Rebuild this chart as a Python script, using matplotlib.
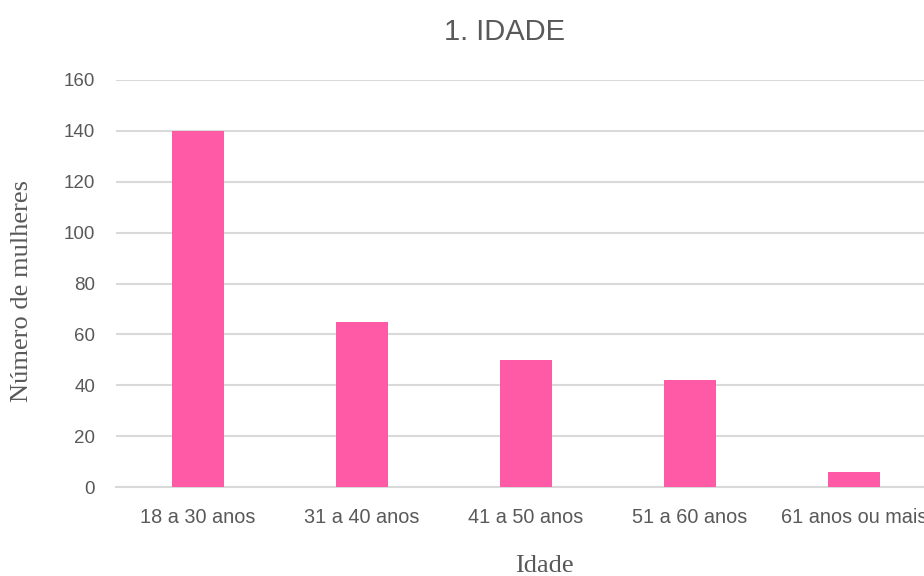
import matplotlib.pyplot as plt

# faixas etarias e numero de mulheres em cada uma
faixas = ["18 a 30 anos", "31 a 40 anos", "41 a 50 anos", "51 a 60 anos", "61 anos ou mais"]
mulheres = [140, 65, 50, 42, 6]
y_ticks = [0, 20, 40, 60, 80, 100, 120, 140, 160]

W, H = 924, 576
fig = plt.figure(figsize=(W / 100, H / 100), dpi=100)

# the plot area runs a little past the right border, as in the original export
left, right, bottom, top = 116, 936, 487, 80
ax = fig.add_axes([left / W, (H - bottom) / H, (right - left) / W, (bottom - top) / H])

x = range(len(faixas))
ax.bar(x, mulheres, width=0.32, color="#FF5AA6", zorder=3)

ax.set_xlim(-0.5, len(faixas) - 0.5)
ax.set_ylim(0, 160)
ax.set_yticks(y_ticks)
ax.set_xticks(list(x))
ax.set_xticklabels(faixas)

ax.grid(axis="y", color="#D9D9D9", linewidth=1.5, zorder=0)
for side in ["top", "right", "left"]:
    ax.spines[side].set_visible(False)
ax.spines["bottom"].set_color("#D9D9D9")
ax.spines["bottom"].set_linewidth(1.5)

ax.tick_params(axis="both", length=0, labelcolor="#595959", labelsize=13.5)
ax.tick_params(axis="x", pad=15, labelsize=14.3)
ax.tick_params(axis="y", pad=15)
for lbl in ax.get_xticklabels() + ax.get_yticklabels():
    lbl.set_family("Liberation Sans")

fig.text(505 / W, 1 - 32 / H, "1. IDADE", ha="center", va="center",
         fontsize=21, color="#595959", family="Liberation Sans")
fig.text(544 / W, 1 - 566 / H, "Idade", ha="center", va="center",
         fontsize=19, color="#595959", family="Liberation Serif")
fig.text(22 / W, 1 - 291 / H, "Número de mulheres", ha="center", va="center",
         rotation=90, fontsize=19, color="#595959", family="Liberation Serif")

plt.savefig("out.png", dpi=100)
